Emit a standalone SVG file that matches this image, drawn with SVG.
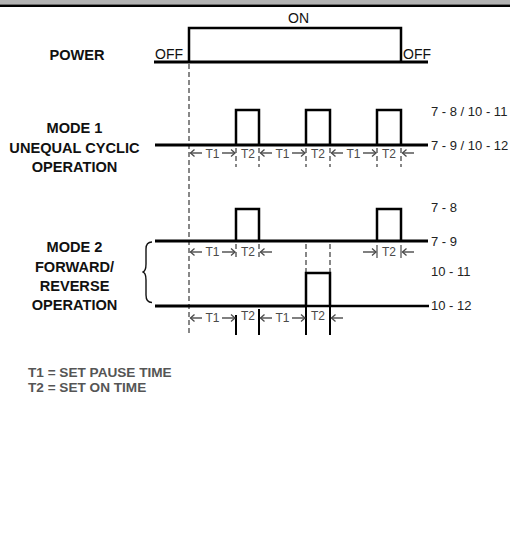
<svg xmlns="http://www.w3.org/2000/svg" width="510" height="556" viewBox="0 0 510 556">
<style>
.lbl{font-family:"Liberation Sans",Arial,sans-serif;font-weight:bold;font-size:14.6px;fill:#111;text-anchor:middle}
.st{font-family:"Liberation Sans",Arial,sans-serif;font-size:14px;fill:#111}
.pin{font-family:"Liberation Sans",Arial,sans-serif;font-size:13px;fill:#222}
.t{font-family:"Liberation Sans",Arial,sans-serif;font-size:12px;fill:#4a4a4a;text-anchor:middle}
.leg{font-family:"Liberation Sans",Arial,sans-serif;font-weight:bold;font-size:13.6px;fill:#555}
.base{stroke:#000;stroke-width:3;fill:none}
.pulse{stroke:#000;stroke-width:2.5;fill:none}
.dash{stroke:#555;stroke-width:1.4;stroke-dasharray:5 3;fill:none}
.tick{stroke:#000;stroke-width:2;fill:none}
.arr{stroke:#4a4a4a;stroke-width:1.4;fill:none;marker-end:url(#ah)}
</style>
<defs>
<marker id="ah" markerUnits="userSpaceOnUse" markerWidth="8" markerHeight="8" refX="5" refY="4" orient="auto">
<path d="M1,0.6 L5,4 L1,7.4" fill="none" stroke="#4a4a4a" stroke-width="1.3"/>
</marker>
</defs>
<rect x="0" y="0" width="510" height="4.5" fill="#b3b3b3"/>
<rect x="0" y="4.5" width="510" height="2.5" fill="#000"/>

<g id="power">
<text class="lbl" x="77" y="60">POWER</text>
<text class="st" x="155" y="59">OFF</text>
<text class="st" x="403" y="59">OFF</text>
<text class="st" x="298.5" y="23" text-anchor="middle">ON</text>
<polyline class="pulse" points="189,62 189,28 401,28 401,62" stroke-width="2.2"/>
<line class="base" x1="154" y1="62" x2="428" y2="62"/>
</g>

<g id="reference-line">
<line class="dash" x1="189" y1="64" x2="189" y2="336"/>
</g>

<g id="mode1">
<text class="lbl" x="74.5" y="133">MODE 1</text>
<text class="lbl" x="74.5" y="153">UNEQUAL CYCLIC</text>
<text class="lbl" x="74.5" y="172">OPERATION</text>
<line class="base" x1="155" y1="145" x2="428" y2="145"/>
<polyline class="pulse" points="236,145 236,110 259,110 259,145"/>
<polyline class="pulse" points="306,145 306,110 330,110 330,145"/>
<polyline class="pulse" points="377,145 377,110 401,110 401,145"/>
<text class="pin" x="431" y="116">7 - 8 / 10 - 11</text>
<text class="pin" x="431" y="150">7 - 9 / 10 - 12</text>
<g id="mode1-times">
<line class="dash" x1="236" y1="148" x2="236" y2="167"/>
<line class="dash" x1="259" y1="148" x2="259" y2="167"/>
<line class="dash" x1="306" y1="148" x2="306" y2="167"/>
<line class="dash" x1="330" y1="148" x2="330" y2="167"/>
<line class="dash" x1="377" y1="148" x2="377" y2="167"/>
<line class="dash" x1="401" y1="148" x2="401" y2="167"/>
<line class="arr" x1="202" y1="153" x2="190.5" y2="153"/>
<text class="t" x="212.5" y="157.5">T1</text>
<line class="arr" x1="222" y1="153" x2="235" y2="153"/>
<text class="t" x="248" y="157.5">T2</text>
<line class="arr" x1="272" y1="153" x2="260.5" y2="153"/>
<text class="t" x="282.5" y="157.5">T1</text>
<line class="arr" x1="292" y1="153" x2="305" y2="153"/>
<text class="t" x="318" y="157.5">T2</text>
<line class="arr" x1="343" y1="153" x2="331.5" y2="153"/>
<text class="t" x="353.5" y="157.5">T1</text>
<line class="arr" x1="363" y1="153" x2="376" y2="153"/>
<text class="t" x="389" y="157.5">T2</text>
<line class="arr" x1="414" y1="153" x2="402.5" y2="153"/>
</g>
</g>

<g id="mode2">
<text class="lbl" x="74.5" y="252">MODE 2</text>
<text class="lbl" x="74.5" y="271.5">FORWARD/</text>
<text class="lbl" x="74.5" y="291">REVERSE</text>
<text class="lbl" x="74.5" y="310">OPERATION</text>
<path d="M152,242 Q146,242 146,249 L146,264 Q146,271.5 142.5,272 Q146,272.5 146,280 L146,295 Q146,302.5 152,302.5" fill="none" stroke="#111" stroke-width="1.4"/>
<g id="mode2-forward">
<line class="base" x1="155" y1="241" x2="428" y2="241"/>
<polyline class="pulse" points="236,241 236,209 259,209 259,241"/>
<polyline class="pulse" points="377,241 377,209 401,209 401,241"/>
<text class="pin" x="431" y="212">7 - 8</text>
<text class="pin" x="431" y="246">7 - 9</text>
<line class="dash" x1="236" y1="244" x2="236" y2="260"/>
<line class="dash" x1="259" y1="244" x2="259" y2="260"/>
<line class="dash" x1="306" y1="244" x2="306" y2="272"/>
<line class="dash" x1="330" y1="244" x2="330" y2="272"/>
<line x1="377" y1="245" x2="377" y2="258" stroke="#4a4a4a" stroke-width="1.2"/>
<line x1="401" y1="245" x2="401" y2="258" stroke="#4a4a4a" stroke-width="1.2"/>
<line class="arr" x1="202" y1="252" x2="190.5" y2="252"/>
<text class="t" x="212.5" y="256">T1</text>
<line class="arr" x1="222" y1="252" x2="235" y2="252"/>
<text class="t" x="248" y="256">T2</text>
<line class="arr" x1="272" y1="252" x2="260.5" y2="252"/>
<line class="arr" x1="363" y1="252" x2="376" y2="252"/>
<text class="t" x="389" y="256">T2</text>
<line class="arr" x1="414" y1="252" x2="402.5" y2="252"/>
</g>
<g id="mode2-reverse">
<line class="base" x1="155" y1="306" x2="306" y2="306"/>
<line x1="306" y1="306" x2="429" y2="306" stroke="#000" stroke-width="2.4"/>
<polyline class="pulse" points="306,306 306,273 330,273 330,306"/>
<text class="pin" x="431" y="276">10 - 11</text>
<text class="pin" x="431" y="310">10 - 12</text>
<line class="tick" x1="236" y1="315" x2="236" y2="335"/>
<line class="tick" x1="259" y1="309" x2="259" y2="335"/>
<line class="tick" x1="306" y1="306" x2="306" y2="335"/>
<line class="tick" x1="330" y1="306" x2="330" y2="335"/>
<line class="arr" x1="202" y1="318" x2="190.5" y2="318"/>
<text class="t" x="212.5" y="322">T1</text>
<line class="arr" x1="222" y1="318" x2="235" y2="318"/>
<text class="t" x="248" y="320">T2</text>
<line class="arr" x1="272" y1="318" x2="260.5" y2="318"/>
<text class="t" x="282.5" y="322">T1</text>
<line class="arr" x1="292" y1="318" x2="305" y2="318"/>
<text class="t" x="318" y="320">T2</text>
<line class="arr" x1="343" y1="318" x2="331.5" y2="318"/>
</g>
</g>

<g id="legend">
<text class="leg" x="28" y="377">T1 = SET PAUSE TIME</text>
<text class="leg" x="28" y="391.5">T2 = SET ON TIME</text>
</g>
</svg>
